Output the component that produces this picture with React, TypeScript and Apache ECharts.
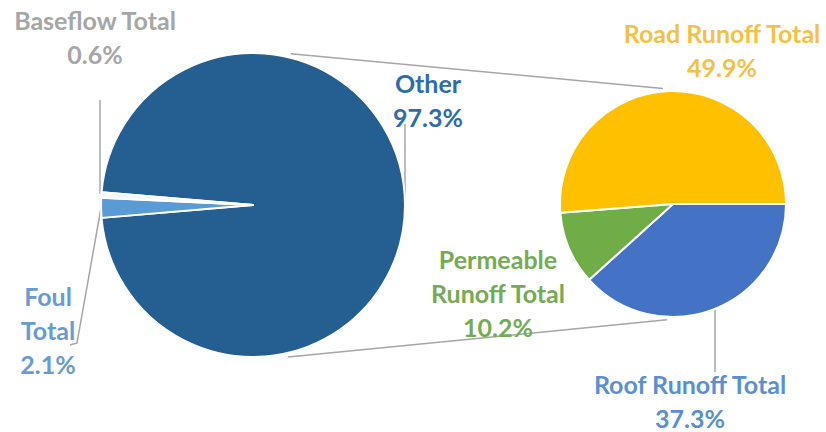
import React, { useEffect, useRef } from "react";
import * as echarts from "echarts";

// ---- data (percent of total) ----
const mainNames = ["Other", "Foul Total", "Baseflow Total"];
const mainValues = [97.3, 2.1, 0.6];
const subNames = ["Roof Runoff Total", "Permeable Runoff Total", "Road Runoff Total"];
const subValues = [37.3, 10.2, 49.9];

// ---- layout / style ----
const MAIN = { cx: 253, cy: 205, r: 152 };
const SUB = { cx: 673, cy: 204, r: 113 };

type Sty = {
  fill: string;
  text: string;
  label: string;
  x: number;
  y: number;
  line?: number[][];
};

const STYLE: Record<string, Sty> = {
  "Other": { fill: "#255e91", text: "#2e6cab", label: "Other", x: 428, y: 100, line: [[405, 124], [405, 165], [405, 204]] },
  "Foul Total": { fill: "#5b9bd5", text: "#6a9bd0", label: "Foul\nTotal", x: 48, y: 330, line: [[101, 208], [77, 343], [70, 345]] },
  "Baseflow Total": { fill: "#f4f7fb", text: "#a6a6a6", label: "Baseflow Total", x: 95, y: 37, line: [[100, 100], [100, 193], [102, 195]] },
  "Roof Runoff Total": { fill: "#4472c4", text: "#5b8fd0", label: "Roof Runoff Total", x: 690, y: 401, line: [[715, 309], [715, 340], [715, 372]] },
  "Permeable Runoff Total": { fill: "#70ad47", text: "#74ab55", label: "Permeable\nRunoff Total", x: 498, y: 293 },
  "Road Runoff Total": { fill: "#ffc000", text: "#f4c146", label: "Road Runoff Total", x: 722, y: 50 },
};

const FONT = "Lato, 'Open Sans', sans-serif";

function pt(c: { cx: number; cy: number }, rr: number, deg: number) {
  const a = (deg * Math.PI) / 180;
  return [c.cx + rr * Math.cos(a), c.cy - rr * Math.sin(a)];
}

function buildData(names: string[], values: number[]) {
  return names.map((n, i) => {
    const s = STYLE[n];
    return {
      name: n,
      value: values[i],
      itemStyle: { color: s.fill },
      label: { color: s.text },
      labelLine: { show: !!s.line },
    };
  });
}

export default function App() {
  const ref = useRef<HTMLDivElement>(null);
  useEffect(() => {
    document.body.style.margin = "0";
    if (!ref.current) return;
    const chart = echarts.init(ref.current, undefined, { renderer: "svg" });

    const layoutFn = (names: string[]) => (params: any) => {
      const s = STYLE[names[params.dataIndex]];
      const out: any = { x: s.x, y: s.y, align: "center", verticalAlign: "middle" };
      if (s.line) out.labelLinePoints = s.line;
      return out;
    };

    const labelCommon = {
      show: true,
      position: "outside",
      fontFamily: FONT,
      fontWeight: "bold",
      fontSize: 25,
      lineHeight: 34,
      align: "center",
      formatter: (p: any) => `${STYLE[p.name].label}\n${p.value}%`,
    };

    const mainStart = ((mainValues[0] / mainValues.reduce((a, b) => a + b, 0)) * 360) / 2;

    const t1 = pt(MAIN, 156, 76);
    const t2 = pt(SUB, 116, 95);
    const b1 = pt(MAIN, 156, -77);
    const b2 = pt(SUB, 116, -93);

    chart.setOption({
      animation: false,
      backgroundColor: "#ffffff",
      graphic: [
        {
          type: "line",
          z: 0,
          shape: { x1: t1[0], y1: t1[1], x2: t2[0], y2: t2[1] },
          style: { stroke: "#a6a6a6", lineWidth: 1.5 },
        },
        {
          type: "line",
          z: 0,
          shape: { x1: b1[0], y1: b1[1], x2: b2[0], y2: b2[1] },
          style: { stroke: "#a6a6a6", lineWidth: 1.5 },
        },
      ],
      series: [
        {
          type: "pie",
          center: [MAIN.cx, MAIN.cy],
          radius: MAIN.r,
          startAngle: mainStart,
          clockwise: true,
          avoidLabelOverlap: false,
          itemStyle: { borderColor: "#ffffff", borderWidth: 2 },
          label: labelCommon,
          labelLine: { show: true, lineStyle: { color: "#a6a6a6", width: 1.5 } },
          labelLayout: layoutFn(mainNames),
          emphasis: { disabled: true },
          data: buildData(mainNames, mainValues),
        },
        {
          type: "pie",
          center: [SUB.cx, SUB.cy],
          radius: SUB.r,
          startAngle: 0,
          clockwise: true,
          avoidLabelOverlap: false,
          itemStyle: { borderColor: "#ffffff", borderWidth: 2 },
          label: labelCommon,
          labelLine: { show: true, lineStyle: { color: "#a6a6a6", width: 1.5 } },
          labelLayout: layoutFn(subNames),
          emphasis: { disabled: true },
          data: buildData(subNames, subValues),
        },
      ],
    });
    return () => chart.dispose();
  }, []);
  return <div ref={ref} style={{ width: 826, height: 432 }} />;
}
